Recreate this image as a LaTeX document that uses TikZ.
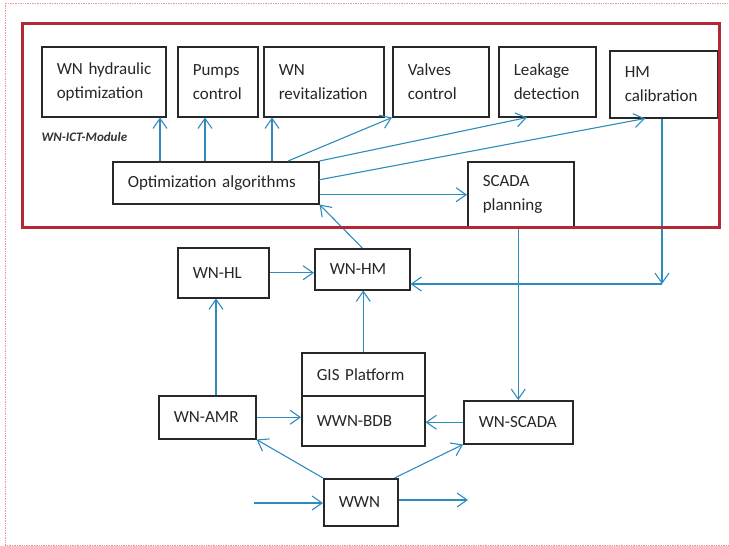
\documentclass[tikz,border=0pt]{standalone}
\usepackage{fontspec}
\setmainfont{Carlito}
\usetikzlibrary{arrows.meta,calc}
\hyphenpenalty=10000
\definecolor{lineblue}{RGB}{45,140,190}
\definecolor{framered}{RGB}{178,40,52}
\definecolor{edgepink}{RGB}{235,150,150}
\definecolor{boxgray}{RGB}{40,40,40}
\tikzset{
  blk/.style 2 args={draw=boxgray,line width=1.5pt,anchor=north west,
    inner xsep=15pt,inner ysep=0pt,align=left,text width=#1pt,
    minimum height=#2pt,text=black!85,font=\fontsize{17}{24}\selectfont},
  arr/.style={draw=lineblue,line width=1.1pt,
    -{Straight Barb[length=10pt,width=14pt]}},
}
\begin{document}
\begin{tikzpicture}[x=1pt,y=-1pt]
  \useasboundingbox (0,0) rectangle (729,546);
  \draw[edgepink,line width=0.7pt,densely dotted]
    (731,3) -- (5,3) -- (5,545) -- (731,545);
  % module blocks
  \node[blk={94}{70}] (hyd)   at (41,46)  {WN~hydraulic\\optimization};
  \node[blk={50}{70}] (pump)  at (177,46) {Pumps\\control};
  \node[blk={90}{70}] (revit) at (263,46) {WN\\revitalization};
  \node[blk={66}{70}] (valve) at (392,46) {Valves\\control};
  \node[blk={67}{70}] (leak)  at (498,46) {Leakage\\detection};
  \node[blk={78}{67}] (hmc)   at (609,50) {HM\\calibration};
  \node[blk={176}{42}] (opt)  at (112,161) {Optimization algorithms};
  \node[blk={76}{66}] (scada) at (467,161) {SCADA\\planning};
  \node[anchor=west,text=black!80,
    font=\fontsize{13}{15}\selectfont\bfseries\itshape] (ictlabel) at (38,137) {WN-ICT-Module};
  % network blocks
  \node[blk={61}{50}] (wnhl)    at (177,247) {WN-HL};
  \node[blk={65}{41}] (wnhm)    at (314,248) {WN-HM};
  \node[blk={93}{43}] (gis)     at (301,352) {GIS Platform};
  \node[blk={93}{50}] (bdb)     at (301,395) {WWN-BDB};
  \node[blk={67}{43}] (wnamr)   at (158,395) {WN-AMR};
  \node[blk={79}{43}] (wnscada) at (463,400) {WN-SCADA};
  \node[blk={44}{47}] (wwn)     at (323,478) {WWN};
  \coordinate (turn) at (662,284);
  \coordinate (inflow) at (254,503);
  \coordinate (outflow) at (468,500);
  % optimization outputs
  \draw[arr] (opt.north -| 160,0) -- (160,0 |- hyd.south);
  \draw[arr] (opt.north -| 205,0) -- (205,0 |- pump.south);
  \draw[arr] (opt.north -| 272,0) -- (272,0 |- revit.south);
  \draw[arr] (opt.north -| 288,0) -- (valve.south west);
  \draw[arr] (opt.north east) -- (leak.south -| 527,0);
  \draw[arr] ([yshift=3pt]opt.east) -- (hmc.south -| 645,0);
  \draw[arr] (opt.east |- scada.west) -- (scada.west);
  \draw[arr] (wnhm.north) -- (opt.south east);
  % hydraulic model
  \draw[arr] (hmc.south -| turn) -- (turn);
  \draw[arr] (turn) -- (wnhm.east |- turn);
  \draw[arr] (scada.south -| wnscada.north) -- (wnscada.north);
  \draw[arr] (wnhl.east) -- (wnhm.west |- wnhl.east);
  \draw[arr] (gis.north) -- (gis.north |- wnhm.south);
  \draw[arr] (wnamr.north -| 216,0) -- (216,0 |- wnhl.south);
  \draw[arr] (wnamr.east) -- (wnamr.east -| bdb.west);
  \draw[arr] (wnscada.west) -- (wnscada.west -| bdb.east);
  \draw[arr] (wwn.north west) -- (wnamr.south east);
  \draw[arr] ([xshift=-4pt]wwn.north east) -- (wnscada.south west);
  \draw[arr] (inflow) -- (wwn.west |- inflow);
  \draw[arr] (wwn.east |- outflow) -- (outflow);
  % module frame
  \draw[framered,line width=3pt] (22,23) rectangle (719,227);
\end{tikzpicture}
\end{document}
